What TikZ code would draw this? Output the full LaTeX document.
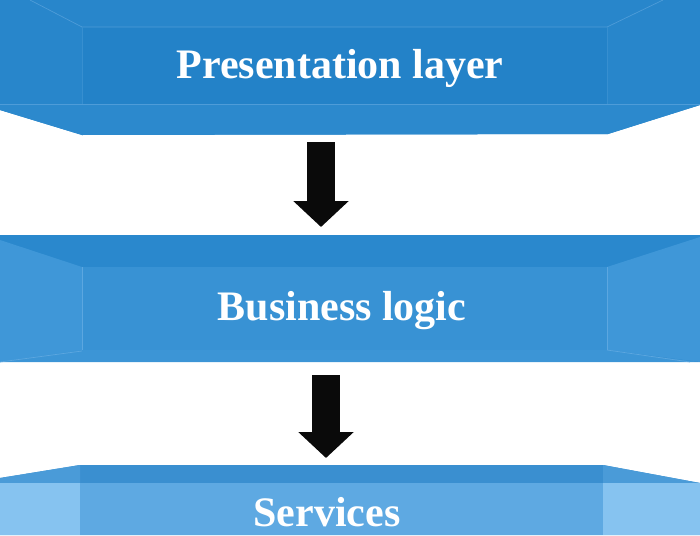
\documentclass[tikz,border=0pt]{standalone}
\usepackage{fontspec}
\setmainfont{Liberation Serif}
\usetikzlibrary{arrows.meta}
\definecolor{topbase}{RGB}{40,134,203}
\definecolor{topinner}{RGB}{35,130,200}
\definecolor{topbottom}{RGB}{44,137,205}
\definecolor{topline}{RGB}{78,156,216}
\definecolor{midtop}{RGB}{42,136,205}
\definecolor{midinner}{RGB}{56,146,212}
\definecolor{midside}{RGB}{63,151,216}
\definecolor{midbottom}{RGB}{60,149,214}
\definecolor{midline}{RGB}{92,167,224}
\definecolor{bottop}{RGB}{58,143,208}
\definecolor{botbevside}{RGB}{74,155,216}
\definecolor{botinner}{RGB}{94,169,226}
\definecolor{botside}{RGB}{134,195,240}
\definecolor{arrowblack}{RGB}{10,10,10}
\begin{document}
\begin{tikzpicture}[x=1pt,y=-1pt,
  bandtext/.style={text=white,font=\fontsize{42}{42}\selectfont\bfseries,anchor=base,inner sep=0pt},
  bigarrow/.style={draw=arrowblack,line width=28pt,-{Triangle[width=54pt,length=26pt]}},
  edgeline/.style={line width=0.7pt}]
\useasboundingbox (0,0) rectangle (700,535);
% ---- top band
\fill[topbase] (0,0) -- (700,0) -- (700,105) -- (608,134) -- (82,135) -- (0,110) -- cycle;
\fill[topbottom] (0,104) -- (700,104) -- (700,105) -- (608,134) -- (82,135) -- (0,110) -- cycle;
\fill[topinner] (82,27) rectangle (607,104);
\draw[edgeline,topline] (30,0) -- (82,27) -- (607,27) -- (663,0);
\draw[edgeline,topline] (0,104) -- (700,104);
\draw[edgeline,topline!40!topbase] (82,27) -- (82,104) (607,27) -- (607,104);
% ---- middle band
\fill[midtop] (0,235) rectangle (700,362);
\fill[midside] (0,240) -- (82,267) -- (82,351) -- (0,362) -- cycle;
\fill[midside] (700,237) -- (607,267) -- (607,350) -- (700,362) -- cycle;
\fill[midbottom] (82,350) -- (607,350) -- (700,362) -- (0,362) -- cycle;
\fill[midinner] (82,267) rectangle (607,350);
\draw[edgeline,midline] (82,267) -- (82,350) (607,267) -- (607,350);
\draw[edgeline,midline] (82,351) -- (0,362) (607,350) -- (690,362);
% ---- bottom band
\fill[bottop] (0,478) -- (80,465) -- (603,465) -- (700,483) -- (700,535) -- (0,535) -- cycle;
\fill[botbevside] (0,478) -- (80,465) -- (80,483) -- (0,483) -- cycle;
\fill[botbevside] (700,483) -- (603,465) -- (603,483) -- cycle;
\fill[botside] (0,483) rectangle (80,535);
\fill[botside] (603,483) rectangle (700,535);
\fill[botinner] (80,483) rectangle (603,535);
% ---- labels
\node[bandtext] (pres) at (340,78) {Presentation layer};
\node[bandtext] (biz) at (342,320) {Business logic};
\node[bandtext] (serv) at (327,526) {Services};
% ---- arrows
\coordinate (a1s) at (321,142);
\coordinate (a1e) at (321,227);
\coordinate (a2s) at (326,375);
\coordinate (a2e) at (326,458);
\draw[bigarrow] (a1s) -- (a1e);
\draw[bigarrow] (a2s) -- (a2e);
\end{tikzpicture}
\end{document}
